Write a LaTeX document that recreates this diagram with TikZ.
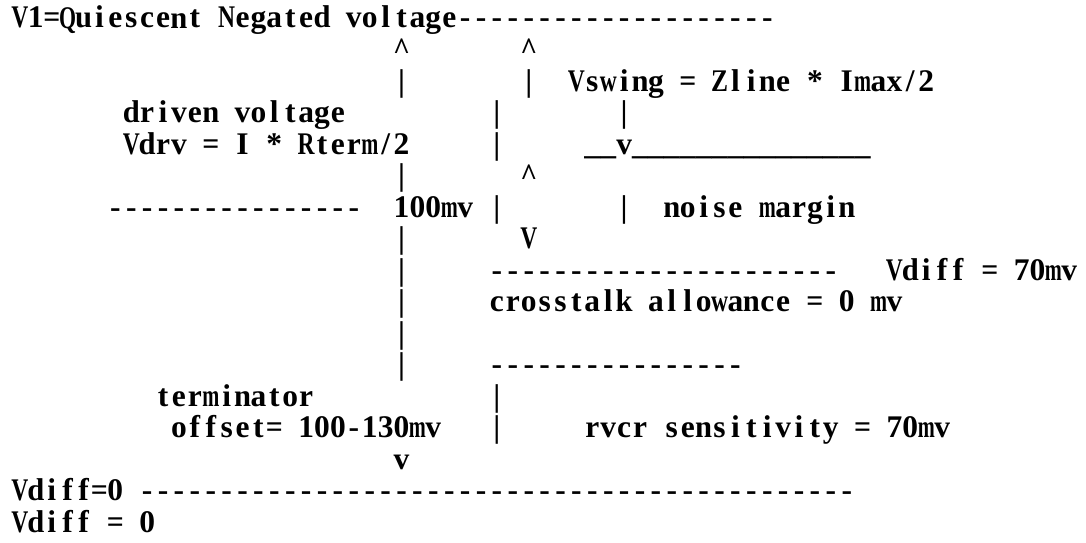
\documentclass[tikz,border=0pt]{standalone}
\usepackage{fontspec}
\usepackage{graphicx}
\newfontfamily\asciiserif{Liberation Serif}
\newlength\cellw \setlength\cellw{15.9pt}
\newlength\maxglyph \setlength\maxglyph{17pt}
\newsavebox\glyphbox
\newcommand\asciicell[1]{\sbox\glyphbox{#1}%
  \ifdim\wd\glyphbox>\maxglyph\relax
    \makebox[\cellw][c]{\resizebox{\maxglyph}{\height}{#1}}%
  \else
    \makebox[\cellw][c]{\usebox\glyphbox}%
  \fi}
\ExplSyntaxOn
\NewDocumentCommand\asciirow{m}{\str_map_inline:nn{#1}{\asciicell{##1}}}
\ExplSyntaxOff
\tikzset{
  txt/.style={inner sep=0pt, outer sep=0pt, anchor=base west,
    font=\asciiserif\bfseries\fontsize{31.5}{31.5}\selectfont},
}
\newcommand\tn[4]{\node[txt] (#1) at ({12+#2*15.9},{28+(#3-1)*31.5}) {\asciirow{#4}};}
\begin{document}
\begin{tikzpicture}[x=1pt,y=-1pt]
\useasboundingbox[fill=white] (0,0) rectangle (1086,543);
% row 1
\tn{v1}{0}{1}{V1=Quiescent Negated voltage--------------------}
% row 2
\tn{upA}{24}{2}{^}
\tn{upB}{32}{2}{^}
% row 3
\tn{barA3}{24}{3}{|}
\tn{barB3}{32}{3}{|}
\tn{vswing}{35}{3}{Vswing = Zline * Imax/2}
% row 4
\tn{driven}{7}{4}{driven voltage}
\tn{barC4}{30}{4}{|}
\tn{barD4}{38}{4}{|}
% row 5
\tn{vdrv}{7}{5}{Vdrv = I * Rterm/2}
\tn{barC5}{30}{5}{|}
\tn{levelA}{36}{5}{__v_______________}
% row 6
\tn{barA6}{24}{6}{|}
\tn{upC}{32}{6}{^}
% row 7
\tn{dashA}{6}{7}{----------------}
\tn{mvA}{24}{7}{100mv}
\tn{barC7}{30}{7}{|}
\tn{barD7}{38}{7}{|}
\tn{noise}{41}{7}{noise margin}
% row 8
\tn{barA8}{24}{8}{|}
\tn{dnC}{32}{8}{V}
% row 9
\tn{barA9}{24}{9}{|}
\tn{dashB}{30}{9}{----------------------}
\tn{vdiffA}{55}{9}{Vdiff = 70mv}
% row 10
\tn{barA10}{24}{10}{|}
\tn{xtalk}{30}{10}{crosstalk allowance = 0 mv}
% row 11
\tn{barA11}{24}{11}{|}
% row 12
\tn{barA12}{24}{12}{|}
\tn{dashC}{30}{12}{----------------}
% row 13
\tn{term}{9}{13}{terminator}
\tn{barC13}{30}{13}{|}
% row 14
\tn{offset}{10}{14}{offset= 100-130mv}
\tn{barC14}{30}{14}{|}
\tn{rvcr}{36}{14}{rvcr sensitivity = 70mv}
% row 15
\tn{dnA}{24}{15}{v}
% row 16
\tn{vdiffB}{0}{16}{Vdiff=0}
\tn{dashD}{8}{16}{---------------------------------------------}
% row 17
\tn{vdiffC}{0}{17}{Vdiff = 0}
\end{tikzpicture}
\end{document}
